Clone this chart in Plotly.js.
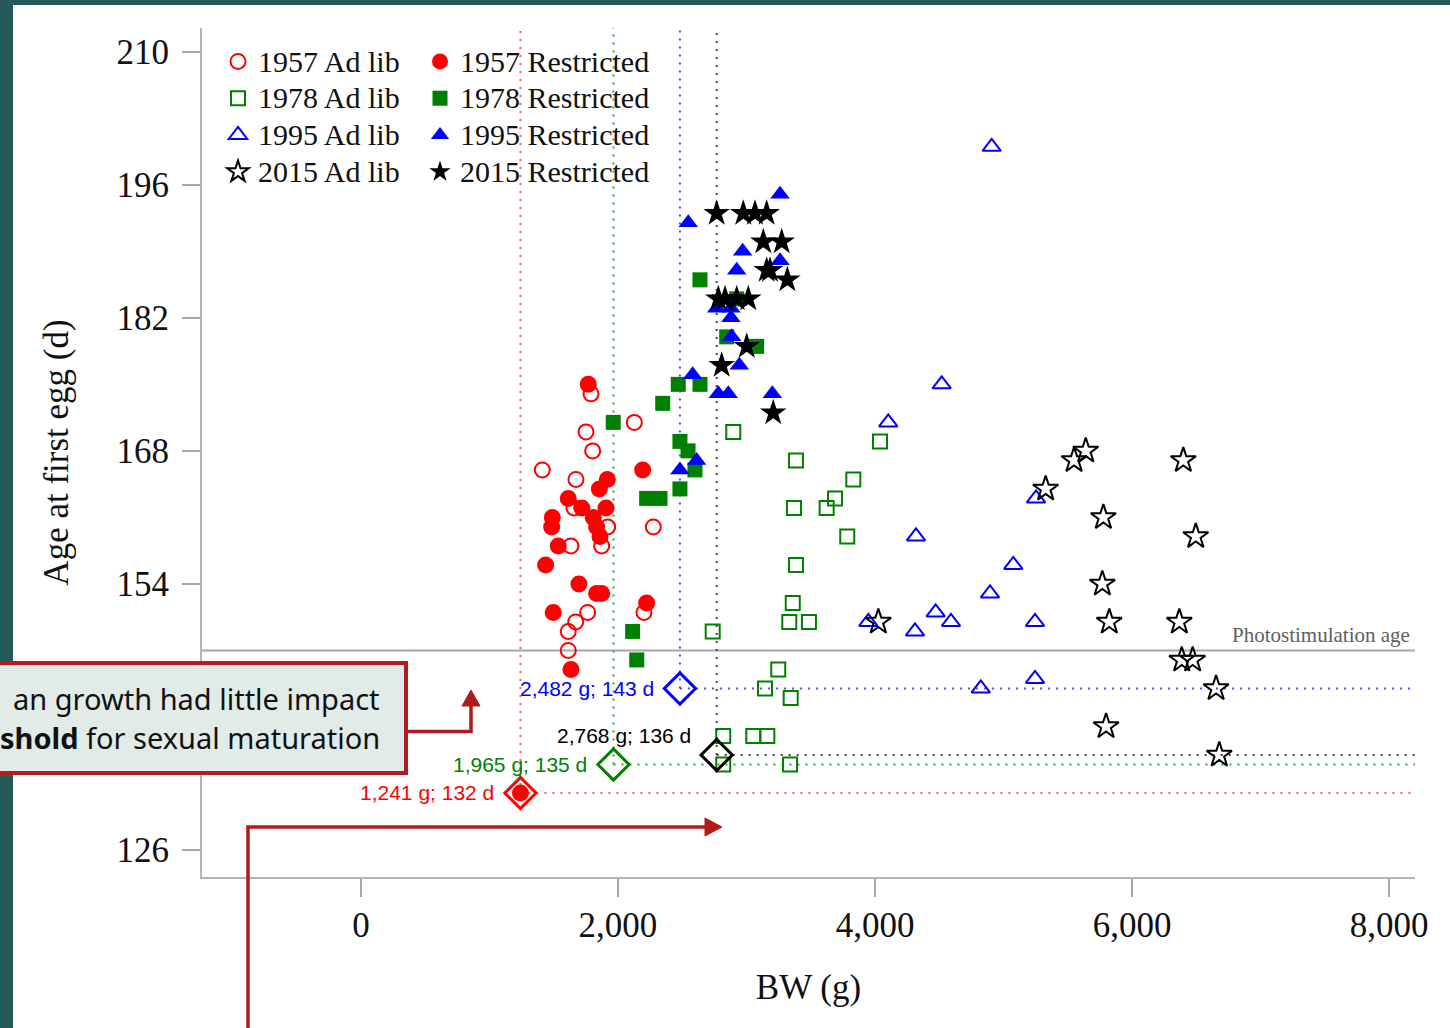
<!DOCTYPE html>
<html>
<head>
<meta charset="utf-8">
<script src="https://cdn.plot.ly/plotly-3.0.1.min.js"></script>
<style>
html,body{margin:0;padding:0;background:#ffffff;}
#chart{width:1450px;height:1028px;}
</style>
</head>
<body>
<div id="chart"></div>
<script>
// ---------------- data ----------------
const adlib1957_x = [1790,2127,1751,1803,1411,1673,1658,1920,1634,1873,2275,1764,1671,1613,2202,1613];
const adlib1957_y = [174,171,170,168,166,165,162,160,158,158,160,151,150,149,151,147];

const restr1957_x = [1769,2192,1917,1855,1613,1718,1907,1489,1484,1808,1834,1860,1535,1437,1696,1834,1873,1496,2223,1634,1241];
const restr1957_y = [175,166,165,164,163,162,162,161,160,161,160,159,158,156,154,153,153,151,152,145,132];

const adlib1978_x = [2897,3385,4039,3831,3689,3624,3370,3784,3385,3360,3333,3486,2737,3247,3144,3344,2819,3053,3162,2819,3339];
const adlib1978_y = [170,167,169,165,163,162,162,159,156,152,150,150,149,145,143,142,138,138,138,135,135];

const restr1978_x = [2638,2924,2846,3079,2469,2638,2348,1963,2482,2545,2599,2482,2223,2327,2114,2146];
const restr1978_y = [186,184,180,179,175,175,173,171,169,168,166,164,163,163,149,146];

const adlib1995_x = [4908,4519,4103,5253,4319,5076,4895,3948,4472,4591,4311,5245,4823,5245];
const adlib1995_y = [200,175,171,163,159,156,153,150,151,150,149,150,143,144];

const restr1995_x = [3261,2547,2970,3261,2924,2768,2879,2879,2885,2944,2581,2781,2858,3201,2482,2612];
const restr1995_y = [195,192,189,188,187,183,183,182,180,177,176,174,174,174,166,167];

const adlib2015_x = [4026,5549,5640,6399,5328,5777,6496,5769,5823,6368,6387,6472,6654,5798,6679];
const adlib2015_y = [150,167,168,167,164,161,159,154,150,150,146,146,143,139,136];

const restr2015_x = [2768,2975,3066,3157,3131,3274,3157,3183,3318,2781,2833,2924,3014,3002,2807,3208];
const restr2015_y = [193,193,193,193,190,190,187,187,186,184,184,184,184,179,177,172];

// thresholds (BW g, age d)
const thr_x = [1241,1965,2482,2768];
const thr_y = [132,135,143,136];
const thr_labels = ["1,241 g; 132 d","1,965 g; 135 d","2,482 g; 143 d","2,768 g; 136 d"];

const photostimAge = 147;
const xTicks = [0,2000,4000,6000,8000];
// the 140 tick sits under the callout box in the original, so it is not shown
const yTicks = [126,154,168,182,196,210];

const calloutLines = ['an growth had little impact', '<b>shold</b> for sexual maturation'];

// ---------------- styling ----------------
const RED = '#ff0000', GREEN = '#008000', BLUE = '#0000ff', BLACK = '#000000';
const thrColors = [RED, GREEN, BLUE, BLACK];
const dotColors = ['#ff5a5a', '#3aa03a', '#4a4aff', '#444444'];
const xRange = [-1237, 8202];
const yRange = [123.16, 212.5];
const SERIF = '"Liberation Serif", "Times New Roman", serif';
const SANS = '"Liberation Sans", Arial, sans-serif';

// plot area in pixels
const PL = 202, PR = 1415, PT = 28, PB = 877;
const px2x = p => (p - PL) / (PR - PL);
const py2y = p => (PB - p) / (PB - PT);
function pathPx(pts, close) {
  return pts.map((p, i) => (i ? 'L' : 'M') + px2x(p[0]).toFixed(5) + ',' + py2y(p[1]).toFixed(5)).join(' ') + (close ? ' Z' : '');
}
const legName = s => '<span style="font-size:30px">' + s + '</span>';

const traces = [];

// dotted threshold guide lines
for (let i = 0; i < thr_x.length; i++) {
  traces.push({
    x: [thr_x[i], thr_x[i]], y: [thr_y[i], yRange[1]],
    mode: 'lines', line: {color: dotColors[i], width: 2, dash: '2px,6px'},
    showlegend: false, hoverinfo: 'skip'
  });
  traces.push({
    x: [thr_x[i], xRange[1]], y: [thr_y[i], thr_y[i]],
    mode: 'lines', line: {color: dotColors[i], width: 2, dash: '2px,6px'},
    showlegend: false, hoverinfo: 'skip'
  });
}

function pts(name, xs, ys, symbol, color, size, open, legend) {
  return {
    type: 'scatter', mode: 'markers', name: legName(name), x: xs, y: ys, legend: legend,
    marker: open
      ? {symbol: symbol, size: size, color: color, line: {color: color, width: 2}}
      : {symbol: symbol, size: size, color: color, line: {width: 0}}
  };
}

traces.push(pts('1957 Ad lib', adlib1957_x, adlib1957_y, 'circle-open', RED, 15, true, 'legend'));
traces.push(pts('1957 Restricted', restr1957_x, restr1957_y, 'circle', RED, 17, false, 'legend2'));
traces.push(pts('1978 Ad lib', adlib1978_x, adlib1978_y, 'square-open', GREEN, 14, true, 'legend'));
traces.push(pts('1978 Restricted', restr1978_x, restr1978_y, 'square', GREEN, 15, false, 'legend2'));
traces.push(pts('1995 Ad lib', adlib1995_x, adlib1995_y, 'triangle-up-open', BLUE, 16, true, 'legend'));
traces.push(pts('1995 Restricted', restr1995_x, restr1995_y, 'triangle-up', BLUE, 17, false, 'legend2'));
traces.push(pts('2015 Ad lib', adlib2015_x, adlib2015_y, 'star-open', BLACK, 19, true, 'legend'));
traces.push(pts('2015 Restricted', restr2015_x, restr2015_y, 'star', BLACK, 20, false, 'legend2'));

// threshold diamonds
traces.push({
  type: 'scatter', mode: 'markers', x: thr_x, y: thr_y, showlegend: false,
  marker: {symbol: 'diamond-open', size: 24, color: thrColors, line: {color: thrColors, width: 3}}
});

const annotations = [];
for (let i = 0; i < thr_x.length; i++) {
  const isBlack = i === 3;
  annotations.push({
    x: thr_x[i], y: thr_y[i], xref: 'x', yref: 'y', text: thr_labels[i], showarrow: false,
    xanchor: 'right', yanchor: 'middle', xshift: -24, yshift: isBlack ? 19 : 0,
    font: {family: SANS, size: 21, color: thrColors[i]}
  });
}
annotations.push({
  xref: 'paper', yref: 'y', x: px2x(1412), y: photostimAge, yshift: 15,
  xanchor: 'right', yanchor: 'middle', showarrow: false, text: 'Photostimulation age',
  font: {family: SERIF, size: 21, color: '#606060'}
});
const calloutY = [698, 737];
calloutLines.forEach((t, i) => {
  annotations.push({
    xref: 'paper', yref: 'paper', x: px2x(381), y: py2y(calloutY[i]), xanchor: 'right', yanchor: 'middle',
    align: 'right', showarrow: false, text: t, borderpad: 0,
    font: {family: '"Noto Sans", "DejaVu Sans", sans-serif', size: 29, color: '#111111'}
  });
});

const ARROW = '#b01a1a';
const shapes = [
  // slide background strips
  {type: 'rect', xref: 'paper', yref: 'paper', layer: 'below', x0: px2x(-5), x1: px2x(13), y0: py2y(1035), y1: py2y(-5),
   fillcolor: '#26595b', line: {width: 0}},
  {type: 'rect', xref: 'paper', yref: 'paper', layer: 'below', x0: px2x(-5), x1: px2x(1455), y0: py2y(5), y1: py2y(-5),
   fillcolor: '#25585a', line: {width: 0}},
  // photostimulation line
  {type: 'line', xref: 'paper', yref: 'y', x0: 0, x1: 1, y0: photostimAge, y1: photostimAge,
   line: {color: '#a8a8a8', width: 2}, layer: 'below'},
  // callout box
  {type: 'rect', xref: 'paper', yref: 'paper', layer: 'above', x0: px2x(-10), x1: px2x(406), y0: py2y(773), y1: py2y(663),
   fillcolor: '#e1ece8', line: {color: '#b51b1e', width: 4}},
  // elbow arrow 1
  {type: 'path', xref: 'paper', yref: 'paper', layer: 'above', path: pathPx([[408, 731.5], [471, 731.5], [471, 705]]),
   line: {color: ARROW, width: 3.5}},
  {type: 'path', xref: 'paper', yref: 'paper', layer: 'above', path: pathPx([[462, 706], [480, 706], [471, 690]], true),
   fillcolor: ARROW, line: {color: ARROW, width: 1}},
  // elbow arrow 2
  {type: 'path', xref: 'paper', yref: 'paper', layer: 'above', path: pathPx([[248, 1035], [248, 827], [706, 827]]),
   line: {color: ARROW, width: 3.5}},
  {type: 'path', xref: 'paper', yref: 'paper', layer: 'above', path: pathPx([[705, 818], [705, 836], [722, 827]], true),
   fillcolor: ARROW, line: {color: ARROW, width: 1}}
];

const layout = {
  width: 1450, height: 1028,
  paper_bgcolor: '#ffffff', plot_bgcolor: '#ffffff',
  margin: {l: PL, r: 1450 - PR, t: PT, b: 1028 - PB, pad: 0},
  showlegend: true,
  xaxis: {
    range: xRange, tickvals: xTicks, tickformat: ',', showgrid: false, zeroline: false,
    showline: true, linecolor: '#b4b4b4', linewidth: 2,
    ticks: 'outside', ticklen: 18, tickwidth: 2, tickcolor: '#a8a8a8',
    tickfont: {family: SERIF, size: 35, color: '#111111'}, ticklabelstandoff: -2,
    title: {text: 'BW (g)', font: {family: SERIF, size: 35, color: '#111111'}, standoff: 30},
    automargin: false
  },
  yaxis: {
    range: yRange, tickvals: yTicks, showgrid: false, zeroline: false,
    showline: true, linecolor: '#b4b4b4', linewidth: 2,
    ticks: 'outside', ticklen: 18, tickwidth: 2, tickcolor: '#a8a8a8',
    tickfont: {family: SERIF, size: 35, color: '#111111'}, ticklabelstandoff: 6,
    title: {text: 'Age at first egg (d)', font: {family: SERIF, size: 35, color: '#111111'}, standoff: 37},
    automargin: false
  },
  legend: {
    x: px2x(218), y: py2y(38), xanchor: 'left', yanchor: 'top', bgcolor: 'rgba(0,0,0,0)',
    font: {family: SERIF, size: 26, color: '#111111'}, tracegroupgap: 0, itemclick: false
  },
  legend2: {
    x: px2x(420), y: py2y(38), xanchor: 'left', yanchor: 'top', bgcolor: 'rgba(0,0,0,0)',
    font: {family: SERIF, size: 26, color: '#111111'}, tracegroupgap: 0, itemclick: false
  },
  shapes: shapes,
  annotations: annotations
};

Plotly.newPlot('chart', traces, layout, {displayModeBar: false, staticPlot: true});
</script>
</body>
</html>
